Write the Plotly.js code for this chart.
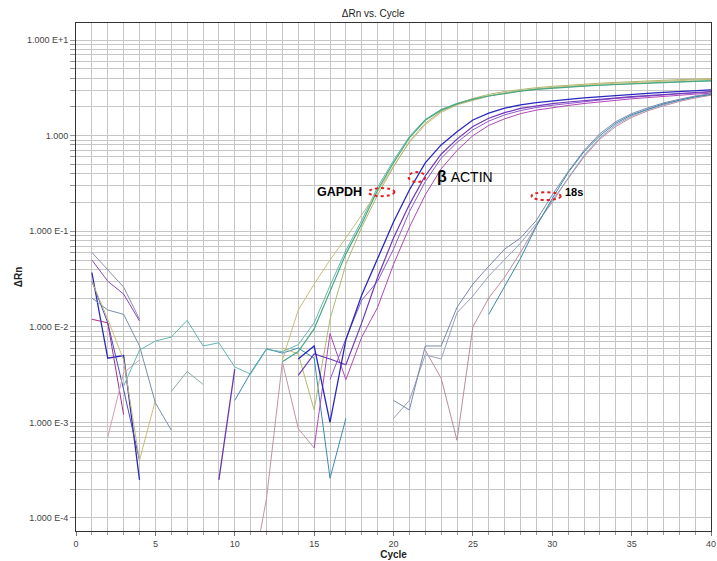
<!DOCTYPE html>
<html><head><meta charset="utf-8">
<script src="https://cdn.plot.ly/plotly-3.0.1.min.js"></script>
<style>html,body{margin:0;padding:0;background:#fff}#chart{width:717px;height:561px}</style>
</head><body><div id="chart"></div>
<script>
// cycle numbers
const cycles = [1,2,3,4,5,6,7,8,9,10,11,12,13,14,15,16,17,18,19,20,21,22,23,24,25,26,27,28,29,30,31,32,33,34,35,36,37,38,39,40];

// ---- early baseline noise (start cycle, values) ----
const n1Start = 1, n1 = [0.06, 0.04, 0.026, 0.012];
const n2Start = 1, n2 = [0.05, 0.03, 0.022, 0.0115];
const n3Start = 1, n3 = [0.037, 0.0047, 0.005, 0.00025];
const n4Start = 1, n4 = [0.03, 0.011, 0.0022, 0.0004];
const n5Start = 1, n5 = [0.012, 0.011, 0.0012];
const n6Start = 1, n6 = [0.03, 0.012, 0.0045, 0.0004, 0.0017];
const n7Start = 1, n7 = [0.02, 0.015, 0.0135, 0.0063, 0.0016, 0.00083];
const n8Start = 2, n8 = [0.0007, 0.0033, 0.0045];
const n10Start = 6, n10 = [0.0021, 0.0034, 0.0025];
const m1Start = 9, m1 = [0.00025, 0.0036];
const m2Start = 10, m2 = [0.0017, 0.0033, 0.0059, 0.0053, 0.006, 0.0047, 0.00026, 0.0011];
const m3Start = 11, m3 = [0.00002, 0.00016, 0.0043, 0.00086, 0.00054];

// ---- GAPDH ----
const g1Start = 13, g1 = [0.0043,0.0055,0.0095,0.024,0.058,0.12,0.27,0.52,0.95,1.45,1.85,2.15,2.4,2.6,2.78,2.92,3.05,3.15,3.22,3.3,3.37,3.43,3.5,3.55,3.6,3.65,3.7,3.75];
const g2Start = 3, g2 = [0.0024,0.0057,0.0071,0.0078,0.0117,0.0063,0.0068,0.0038,0.0032,0.0058,0.0055,0.0065,0.011,0.027,0.063,0.13,0.29,0.55,0.98,1.48,1.88,2.18,2.42,2.62,2.8,2.95,3.08,3.18,3.26,3.33,3.4,3.46,3.52,3.57,3.62,3.67,3.71,3.76];
const g3Start = 13, g3 = [0.0045,0.015,0.028,0.05,0.085,0.15,0.26,0.48,0.85,1.3,1.75,2.1,2.35,2.6,2.8,2.95,3.1,3.2,3.3,3.38,3.46,3.53,3.6,3.66,3.72,3.78,3.83,3.88];
const g4Start = 13, g4 = [0.006,0.0052,0.00135,0.012,0.045,0.11,0.24,0.47,0.87,1.35,1.8,2.15,2.45,2.7,2.9,3.05,3.18,3.28,3.38,3.46,3.54,3.61,3.68,3.74,3.8,3.86,3.9,3.95];

// ---- β ACTIN ----
const b1Start = 14, b1 = [0.0046,0.0063,0.001,0.0073,0.0215,0.052,0.125,0.27,0.52,0.8,1.1,1.46,1.72,1.94,2.1,2.22,2.32,2.4,2.48,2.56,2.63,2.7,2.77,2.84,2.9,2.96,3.02];
const b2Start = 14, b2 = [0.0031,0.0052,0.0046,0.004,0.011,0.033,0.085,0.19,0.38,0.64,0.92,1.25,1.52,1.74,1.93,2.05,2.16,2.25,2.33,2.41,2.49,2.56,2.63,2.7,2.77,2.83,2.9];
const b3Start = 16, b3 = [0.0028,0.0075,0.019,0.03,0.065,0.16,0.33,0.58,0.85,1.15,1.42,1.65,1.83,1.97,2.08,2.18,2.27,2.36,2.45,2.53,2.6,2.67,2.74,2.8,2.86];
const b4Start = 15, b4 = [0.00054,0.0085,0.0028,0.0078,0.016,0.045,0.11,0.24,0.45,0.7,1.0,1.28,1.5,1.7,1.85,1.97,2.07,2.17,2.26,2.35,2.43,2.5,2.58,2.65,2.72,2.78];

// ---- 18s ----
const s1Start = 20, s1 = [0.0017,0.00135,0.0063,0.0063,0.016,0.028,0.043,0.065,0.085,0.13,0.24,0.42,0.7,1.05,1.4,1.7,1.95,2.2,2.4,2.6,2.75];
const s2Start = 20, s2 = [0.0011,0.0017,0.0051,0.0046,0.014,0.021,0.034,0.05,0.075,0.12,0.2,0.36,0.62,0.95,1.3,1.6,1.88,2.1,2.35,2.55,2.7];
const s3Start = 22, s3 = [0.0057,0.0029,0.00065,0.01,0.02,0.033,0.06,0.115,0.21,0.36,0.6,0.92,1.25,1.55,1.82,2.05,2.28,2.48,2.65];
const s4Start = 26, s4 = [0.0135,0.027,0.052,0.113,0.22,0.41,0.68,1.0,1.35,1.65,1.9,2.15,2.35,2.55,2.7];

// tick labels
const yTickDecades = [0.0001, 0.001, 0.01, 0.1, 1, 10];
const yTickLabels = ['1.000 E-4', '1.000 E-3', '1.000 E-2', '1.000 E-1', '1.000', '1.000 E+1'];
const minorMult = [2,3,4,5,6,7,8,9];

function tr(start, vals, color, w) {
  const i = cycles.indexOf(start);
  return {x: cycles.slice(i, i + vals.length), y: vals, type: 'scatter', mode: 'lines',
          line: {color: color, width: w || 1}, hoverinfo: 'skip', showlegend: false};
}

const data = [
  tr(n1Start, n1, '#8c8cae'),
  tr(n2Start, n2, '#8a48b8'),
  tr(n3Start, n3, '#2a2ab8', 1.3),
  tr(n4Start, n4, '#4848c8'),
  tr(n5Start, n5, '#a03090'),
  tr(n6Start, n6, '#c8bc78'),
  tr(n7Start, n7, '#7890a8'),
  tr(n8Start, n8, '#c8a0b4'),
  tr(n10Start, n10, '#88aca8'),
  tr(m1Start, m1, '#6838b0', 1.3),
  tr(m2Start, m2, '#3a8ab8'),
  tr(m3Start, m3, '#c094a8'),
  tr(g2Start, g2, '#62b8b0'),
  tr(g3Start, g3, '#c8bc7c'),
  tr(g4Start, g4, '#b4b870'),
  tr(g1Start, g1, '#4aa880', 1.2),
  tr(b3Start, b3, '#9058d0'),
  tr(b4Start, b4, '#b048b8'),
  tr(b2Start, b2, '#7038b8', 1.2),
  tr(b1Start, b1, '#2828c0', 1.3),
  tr(s3Start, s3, '#b88ca0'),
  tr(s2Start, s2, '#98a0c0'),
  tr(s4Start, s4, '#3a88a8'),
  tr(s1Start, s1, '#7888b0')
];

const yTickVals = [], yTickText = [];
yTickDecades.forEach((d, k) => {
  yTickVals.push(d); yTickText.push(yTickLabels[k]);
  if (d < 10) minorMult.forEach(m => { yTickVals.push(d * m); yTickText.push(''); });
});

const grid = '#c6c6c6';
const layout = {
  width: 717, height: 561,
  margin: {l: 76, r: 6, t: 23, b: 30},
  paper_bgcolor: '#fff', plot_bgcolor: '#fff',
  showlegend: false,
  font: {family: 'Liberation Sans, Arial, sans-serif', size: 9, color: '#333'},
  title: {text: 'ΔRn vs. Cycle', x: 0.468, xref: 'paper', xanchor: 'center',
          y: 1 - 13/561, yref: 'container', yanchor: 'middle', font: {size: 10, color: '#222'}},
  xaxis: {range: [0, 40], tick0: 0, dtick: 5, ticks: 'outside', ticklen: 4, tickcolor: '#777',
          showgrid: true, gridcolor: grid, gridwidth: 1,
          minor: {dtick: 1, showgrid: true, gridcolor: grid, gridwidth: 1, ticks: 'outside', ticklen: 3, tickcolor: '#999'},
          showline: true, linecolor: '#333', linewidth: 1, mirror: true, zeroline: false,
          tickfont: {size: 9, color: '#444'},
          title: {text: '<b>Cycle</b>', standoff: 0, font: {size: 10, color: '#222'}}},
  yaxis: {type: 'log', range: [Math.log10(7.3e-5), Math.log10(15.1)],
          tickmode: 'array', tickvals: yTickVals, ticktext: yTickText,
          ticks: 'outside', ticklen: 5, tickcolor: '#999',
          showgrid: true, gridcolor: grid, gridwidth: 1,
          showline: true, linecolor: '#333', linewidth: 1, mirror: true, zeroline: false,
          tickfont: {size: 9, color: '#444'},
          title: {text: '<b>ΔRn</b>', standoff: 2, font: {size: 10, color: '#222'}}},
  shapes: [
    {type: 'circle', xref: 'x', yref: 'y', x0: 18.43, x1: 20.06, y0: 0.233, y1: 0.283,
     line: {color: '#e02020', width: 2, dash: 'dot'}},
    {type: 'circle', xref: 'x', yref: 'y', x0: 20.95, x1: 22.0, y0: 0.327, y1: 0.416,
     line: {color: '#e02020', width: 2, dash: 'dot'}},
    {type: 'circle', xref: 'x', yref: 'y', x0: 28.7, x1: 30.53, y0: 0.212, y1: 0.256,
     line: {color: '#e02020', width: 2, dash: 'dot'}}
  ],
  annotations: [
    {x: 16.6, y: Math.log10(0.257), xref: 'x', yref: 'y', text: '<b>GAPDH</b>', showarrow: false,
     xanchor: 'center', yanchor: 'middle', font: {size: 12.5, color: '#000', family: 'Liberation Sans, Arial, sans-serif'}},
    {x: 22.6, y: Math.log10(0.37), xref: 'x', yref: 'y', text: '<span style="font-size:16px"><b>β</b></span> ACTIN', showarrow: false,
     xanchor: 'left', yanchor: 'middle', font: {size: 14, color: '#000', family: 'Liberation Sans, Arial, sans-serif'}},
    {x: 30.7, y: Math.log10(0.257), xref: 'x', yref: 'y', text: '<b>18s</b>', showarrow: false,
     xanchor: 'left', yanchor: 'middle', font: {size: 11, color: '#000', family: 'Liberation Sans, Arial, sans-serif'}}
  ]
};

Plotly.newPlot('chart', data, layout, {displayModeBar: false, staticPlot: true});
</script>
</body></html>
